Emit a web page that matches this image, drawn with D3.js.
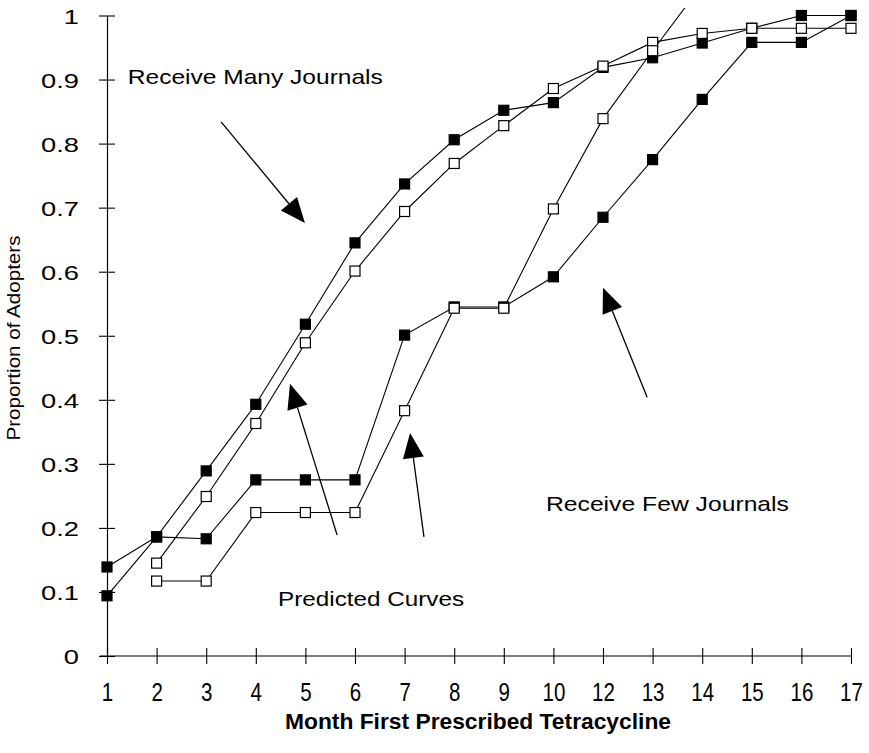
<!DOCTYPE html>
<html>
<head>
<meta charset="utf-8">
<script src="https://cdn.jsdelivr.net/npm/d3@7"></script>
<style>
  html, body { margin: 0; padding: 0; background: #fff; }
  svg { display: block; }
  text { font-family: "Liberation Sans", Arial, Helvetica, sans-serif; fill: #000; }
</style>
</head>
<body>
<svg id="chart" width="869" height="753"></svg>
<script>
// ---------- data ----------
const months = ["1","2","3","4","5","6","7","8","9","10","12","13","14","15","16","17"];
const yTickValues = [0, 0.1, 0.2, 0.3, 0.4, 0.5, 0.6, 0.7, 0.8, 0.9, 1];
const yTickLabels = ["0","0.1","0.2","0.3","0.4","0.5","0.6","0.7","0.8","0.9","1"];

// Receive many journals
const manyObserved  = [0.094, 0.186, 0.289, 0.393, 0.518, 0.645, 0.737, 0.806, 0.852, 0.864, 0.919, 0.934, 0.957, 0.980, 1.000, 1.000];
const manyPredicted = [null,  0.145, 0.249, 0.363, 0.489, 0.601, 0.694, 0.769, 0.828, 0.886, 0.921, 0.958, 0.972, 0.980, 0.980, 0.980];
// Receive few journals
const fewObserved   = [0.139, 0.186, 0.183, 0.275, 0.275, 0.275, 0.501, 0.545, 0.545, 0.592, 0.685, 0.775, 0.869, 0.958, 0.958, 1.000];
const fewPredicted  = [null,  0.117, 0.117, 0.224, 0.224, 0.224, 0.383, 0.543, 0.543, 0.698, 0.839, 0.945, 1.048, null,  null,  null];

// annotations (x in month-position index, y in proportion units)
const labels = [
  { text: "Receive Many Journals", i: 0.42, v: 0.893, len: 255 },
  { text: "Receive Few Journals",  i: 8.85, v: 0.2265, len: 243 },
  { text: "Predicted Curves",      i: 3.45, v: 0.078, len: 186 }
];
const arrows = [
  { i0: 2.30, v0: 0.834, i1: 3.99, v1: 0.676 },
  { i0: 4.64, v0: 0.189, i1: 3.69, v1: 0.425 },
  { i0: 6.39, v0: 0.186, i1: 6.11, v1: 0.348 },
  { i0: 10.89, v0: 0.404, i1: 10.0, v1: 0.575 }
];

// ---------- layout ----------
const svg = d3.select("#chart");
const x = d3.scalePoint().domain(months).range([107, 851]);
const xi = d3.scaleLinear().domain([0, months.length - 1]).range(x.range());
const y = d3.scaleLinear().domain([0, 1]).range([656, 15.5]);

// ---------- axes ----------
const xAxis = svg.append("g")
  .attr("transform", `translate(0,${y(0)})`)
  .call(d3.axisBottom(x).tickSizeOuter(0).tickSizeInner(8).tickPadding(0));
xAxis.select(".domain").attr("d", `M${x.range()[0] - 7},0H${x.range()[1]}`).attr("stroke-width", 1.2);
xAxis.selectAll(".tick line").attr("y1", -8).attr("y2", 8).attr("stroke-width", 1.1);
xAxis.selectAll(".tick text")
  .attr("y", 45).attr("dy", 0)
  .attr("font-size", 25)
  .attr("transform", "scale(0.82,1)")
  .attr("font-family", "'Liberation Sans Narrow','Liberation Sans',Arial,sans-serif");

const yAxis = svg.append("g")
  .attr("transform", `translate(${x.range()[0]},0)`)
  .call(d3.axisLeft(y).tickValues(yTickValues)
        .tickFormat((d, k) => yTickLabels[k]).tickSizeOuter(0).tickSizeInner(7));
yAxis.select(".domain").attr("stroke-width", 1.2);
yAxis.selectAll(".tick line").attr("x1", -8).attr("x2", 8).attr("stroke-width", 1.1);
yAxis.selectAll(".tick text")
  .attr("x", 0).attr("dy", "0.36em")
  .attr("font-size", 21)
  .attr("text-anchor", "end")
  .attr("transform", "translate(-28,0) scale(1.3,1)");
svg.selectAll(".tick text").attr("fill", "#000");
svg.selectAll(".domain, .tick line").attr("stroke", "#000");

// axis titles
svg.append("text")
  .attr("x", 478).attr("y", 729)
  .attr("text-anchor", "middle")
  .attr("font-size", 22).attr("font-weight", "bold")
  .attr("textLength", 386).attr("lengthAdjust", "spacingAndGlyphs")
  .text("Month First Prescribed Tetracycline");

svg.append("text")
  .attr("transform", "translate(20,338) rotate(-90)")
  .attr("text-anchor", "middle")
  .attr("font-size", 19)
  .attr("textLength", 205).attr("lengthAdjust", "spacingAndGlyphs")
  .text("Proportion of Adopters");

// ---------- series ----------
svg.append("clipPath").attr("id", "plotclip")
  .append("rect").attr("x", 0).attr("y", 8).attr("width", 869).attr("height", 745);
const plot = svg.append("g").attr("clip-path", "url(#plotclip)");

const series = [
  { values: manyObserved, filled: true },
  { values: fewObserved, filled: true },
  { values: manyPredicted, filled: false },
  { values: fewPredicted, filled: false }
];
const line = d3.line()
  .defined(d => d.v != null)
  .x(d => x(d.m)).y(d => y(d.v));

series.forEach(s => {
  const pts = months.map((m, k) => ({ m, v: s.values[k] }));
  plot.append("path").datum(pts)
    .attr("d", line).attr("fill", "none")
    .attr("stroke", "#000").attr("stroke-width", 1.1);
});
const sz = 10;
series.forEach(s => {
  const pts = months.map((m, k) => ({ m, v: s.values[k] })).filter(d => d.v != null);
  plot.selectAll(null).data(pts).enter().append("rect")
    .attr("x", d => x(d.m) - sz / 2).attr("y", d => y(d.v) - sz / 2)
    .attr("width", sz).attr("height", sz)
    .attr("fill", s.filled ? "#000" : "#fff")
    .attr("stroke", "#000").attr("stroke-width", 1.2);
});

// ---------- annotations ----------
labels.forEach(l => {
  svg.append("text")
    .attr("x", xi(l.i)).attr("y", y(l.v))
    .attr("font-size", 21)
    .attr("textLength", l.len).attr("lengthAdjust", "spacingAndGlyphs")
    .text(l.text);
});
arrows.forEach(a => {
  const x0 = xi(a.i0), y0 = y(a.v0), x1 = xi(a.i1), y1 = y(a.v1);
  const dx = x1 - x0, dy = y1 - y0, L = Math.hypot(dx, dy);
  const ux = dx / L, uy = dy / L, px = -uy, py = ux;
  const hl = 25, hw = 10.5;
  const bx = x1 - ux * hl, by = y1 - uy * hl;
  svg.append("line")
    .attr("x1", x0).attr("y1", y0).attr("x2", bx).attr("y2", by)
    .attr("stroke", "#000").attr("stroke-width", 1.3);
  svg.append("path")
    .attr("d", `M${x1},${y1}L${bx + px * hw},${by + py * hw}L${bx - px * hw},${by - py * hw}Z`)
    .attr("fill", "#000");
});
</script>
</body>
</html>
